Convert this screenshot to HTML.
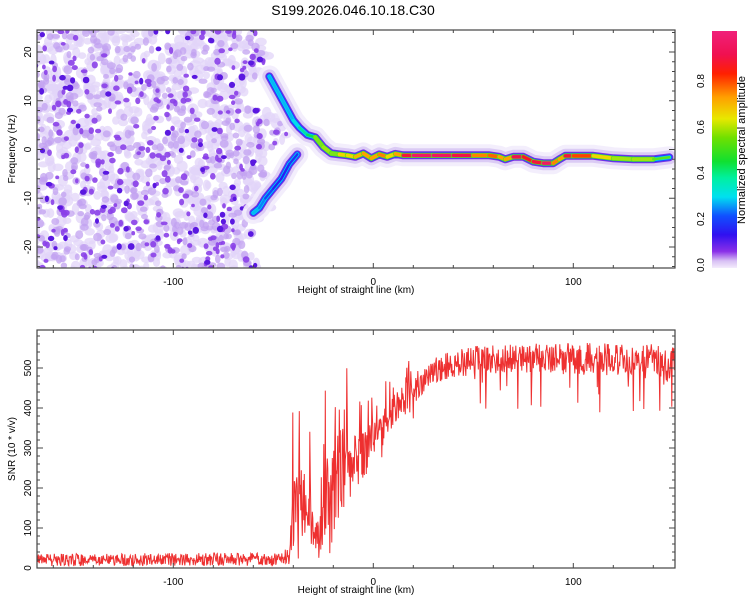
<!DOCTYPE html>
<html><head><meta charset="utf-8">
<style>
body{margin:0;background:#fff;}
svg{display:block;font-family:"Liberation Sans",sans-serif;}
</style></head>
<body>
<svg id="fig" width="750" height="600" viewBox="0 0 750 600">
<defs>
<linearGradient id="cbar" x1="0" y1="1" x2="0" y2="0">
<stop offset="0" stop-color="#f4ecfc"/><stop offset="0.03" stop-color="#d8c0f4"/><stop offset="0.07" stop-color="#8a30e8"/>
<stop offset="0.14" stop-color="#3010f0"/><stop offset="0.22" stop-color="#1050ff"/><stop offset="0.3" stop-color="#00e0f0"/>
<stop offset="0.38" stop-color="#00f0a0"/><stop offset="0.45" stop-color="#10e030"/><stop offset="0.55" stop-color="#70e000"/>
<stop offset="0.63" stop-color="#e8e800"/><stop offset="0.72" stop-color="#ffa000"/><stop offset="0.82" stop-color="#ff2000"/>
<stop offset="0.9" stop-color="#f01050"/><stop offset="1" stop-color="#f0207a"/>
</linearGradient>
<clipPath id="clipTop"><rect x="37" y="30" width="638" height="238"/></clipPath>
<clipPath id="clipBot"><rect x="37" y="330" width="638" height="238"/></clipPath>
</defs>
<text x="353" y="15" font-size="14" text-anchor="middle">S199.2026.046.10.18.C30</text>
<g id="topPlot" clip-path="url(#clipTop)"></g>
<g id="botPlot" clip-path="url(#clipBot)"></g>
<g id="axes"></g>
<rect x="712" y="31" width="25" height="237" fill="url(#cbar)"/>
<text transform="translate(745,150) rotate(-90)" font-size="11" text-anchor="middle">Normalized spectral amplitude</text>
</svg>
<script>
// ---- data ----
const ridgeHeights=[-52,-48,-44,-40,-37,-33,-29,-25,-21,-17,-13,-9,-5,-1,3,7,11,15,20,30,40,50,58,63,66,70,75,80,85,90,93,96,100,110,120,130,140,148];
const ridgeFreqs=[15,12,9,6,4.5,3,2.5,0.5,-0.8,-1,-1.2,-1.5,-0.8,-1.8,-1,-1.5,-0.9,-1.2,-1.2,-1.2,-1.2,-1.2,-1.2,-1.5,-2,-1.5,-1.5,-2.5,-2.8,-2.8,-2,-1.3,-1.3,-1.3,-1.8,-2,-2,-1.6];
const ridgeAmps=[0.3,0.3,0.3,0.3,0.35,0.4,0.45,0.6,0.5,0.55,0.7,0.55,0.8,0.6,0.8,0.65,0.6,0.8,0.95,0.95,0.93,0.85,0.6,0.9,0.5,0.9,0.9,0.8,0.95,0.95,0.5,0.9,0.85,0.7,0.55,0.55,0.55,0.45];
const branchHeights=[-60,-57,-54,-50,-46,-42,-38];
const branchFreqs=[-13,-12,-10,-8,-6,-3,-1];
const branchAmps=[0.3,0.3,0.25,0.2,0.15,0.2,0.2];
const snrHeights=[-168,-45,-42,-40,-36,-32,-29,-27,-24,-20,-16,-12,-8,-4,0,5,10,15,20,25,30,40,50,70,90,110,130,140,146,150];
const snrLevel=[20,22,40,150,180,170,90,70,170,200,240,250,270,290,320,350,390,420,445,470,495,510,520,525,525,522,522,525,500,525];
const snrSpread=[20,20,40,120,130,110,80,60,120,150,140,100,80,70,60,60,50,50,50,40,40,45,45,45,50,50,50,45,60,40];
const xTicks=[-100,0,100];
const freqTicks=[-20,-10,0,10,20];
const snrTicks=[0,100,200,300,400,500];
const cbarTicks=[0,0.2,0.4,0.6,0.8];

const NS="http://www.w3.org/2000/svg";
const X=h=>373.3+2*h;
const YF=f=>149.5-4.875*f;
const YS=v=>568-0.4*v;
function mk(tag,attrs,parent){const e=document.createElementNS(NS,tag);for(const k in attrs)e.setAttribute(k,attrs[k]);parent.appendChild(e);return e;}
let seed=12345;function rnd(){seed|=0;seed=seed+0x6D2B79F5|0;let t=Math.imul(seed^seed>>>15,1|seed);t=t+Math.imul(t^t>>>7,61|t)^t;return((t^t>>>14)>>>0)/4294967296;}
function interp(xs,ys,x){if(x<=xs[0])return ys[0];for(let i=1;i<xs.length;i++){if(x<=xs[i]){const t=(x-xs[i-1])/(xs[i]-xs[i-1]);return ys[i-1]+t*(ys[i]-ys[i-1]);}}return ys[ys.length-1];}
const cmapS=[0,0.05,0.15,0.25,0.32,0.45,0.6,0.7,0.8,0.9,1];
const cmapC=[[216,192,244],[138,48,232],[48,16,240],[16,80,255],[0,224,240],[16,224,48],[232,232,0],[255,160,0],[255,32,0],[240,16,80],[240,32,122]];
function cmap(a){let i=1;while(i<cmapS.length-1&&a>cmapS[i])i++;const t=Math.max(0,Math.min(1,(a-cmapS[i-1])/(cmapS[i]-cmapS[i-1])));const c=cmapC[i-1].map((v,k)=>Math.round(v+t*(cmapC[i][k]-v)));return `rgb(${c})`;}

// ---- top: noise texture ----
const topG=document.getElementById('topPlot');
const noiseG=mk('g',{},topG);


const layers=[[900,3,6,'#e2d4f8',0.75],[450,2.5,4.5,'#c2a2f0',0.75],[260,1.8,3.5,'#8a40e8',0.9],[70,2,3.5,'#5a18e0',1]];
for(const [n,r0,r1,col,op] of layers){for(let i=0;i<n;i++){const f=-25+50*rnd();const bd=-57+6*Math.sin(f*0.4)+(Math.abs(f)<8?8:0);const h2=-170+(bd+170)*rnd();
mk('ellipse',{cx:X(h2).toFixed(1),cy:YF(f).toFixed(1),rx:(r0+(r1-r0)*rnd()).toFixed(1),ry:(r0+(r1-r0)*rnd()).toFixed(1),fill:col,'fill-opacity':op},noiseG);}}
// ---- ridges ----
function drawRidge(hs,fs,as,name){const g=mk('g',{},topG);
const pts=hs.map((h,i)=>X(h).toFixed(1)+','+YF(fs[i]).toFixed(1)).join(' ');
const ls=[[22,'#f2ecfc',0.9],[14,'#d8c6f4',0.9],[8,'#7a30e4',1],[6,'#1848ff',1],[4,'#00d8f0',1]];
for(const [w,c,o] of ls)mk('polyline',{points:pts,fill:'none',stroke:c,'stroke-width':w,'stroke-opacity':o,'stroke-linecap':'round','stroke-linejoin':'round'},g);
for(let i=0;i<hs.length-1;i++){const a=(as[i]+as[i+1])/2;
if(a>0.5)mk('line',{x1:X(hs[i]),y1:YF(fs[i]),x2:X(hs[i+1]),y2:YF(fs[i+1]),stroke:cmap(0.5),'stroke-width':5,'stroke-linecap':'round'},g);
mk('line',{x1:X(hs[i]),y1:YF(fs[i]),x2:X(hs[i+1]),y2:YF(fs[i+1]),stroke:cmap(a),'stroke-width':a>0.5?3.5:2.5,'stroke-linecap':'round'},g);}}
drawRidge(ridgeHeights,ridgeFreqs,ridgeAmps,'main-ridge');
drawRidge(branchHeights,branchFreqs,branchAmps,'lower-branch');

// ---- bottom: SNR ----
const botG=document.getElementById('botPlot');
const snrPts=[];
for(let h=-168;h<=151;h+=0.25){const l=interp(snrHeights,snrLevel,h),s=interp(snrHeights,snrSpread,h);
let v=l+s*0.8*(rnd()*2-1);const r=rnd();
if(h>-42&&h<20){if(r<0.14)v=l+s*(1+1.3*rnd());else if(r<0.2)v=l-s*(0.6+0.6*rnd());}
else if(h>=20){if(r<0.05)v=l-s*(1+1.8*rnd());}
if(v<2)v=2;snrPts.push(X(h).toFixed(1)+','+YS(v).toFixed(1));}
const snrLine=mk('polyline',{points:snrPts.join(' '),fill:'none',stroke:'#ee3030','stroke-width':1},botG);



// ---- axes ----
const ax=document.getElementById('axes');
function frame(y0,y1,name){const r=mk('rect',{x:37,y:y0,width:638,height:y1-y0,fill:'none',stroke:'#444','stroke-width':1.2},ax);
for(let h=-160;h<=150;h+=20){const x=X(h),L=(h%100===0)?5:3;mk('line',{x1:x,y1:y1,x2:x,y2:y1-L,stroke:'#444'},ax);mk('line',{x1:x,y1:y0,x2:x,y2:y0+L,stroke:'#444'},ax);}
for(const t of xTicks){const tx=mk('text',{x:X(t),y:y1+17,'font-size':10,'text-anchor':'middle'},ax);tx.textContent=t;}
const tt=mk('text',{x:356,y:y1+25,'font-size':10,'text-anchor':'middle'},ax);tt.textContent='Height of straight line (km)';}
frame(30,268,'top-axes-frame');frame(330,568,'bottom-axes-frame');
for(let f=-24;f<=24;f+=2){const y=YF(f),L=(f%10===0)?6:3;mk('line',{x1:37,y1:y,x2:37+L,y2:y,stroke:'#444'},ax);mk('line',{x1:675,y1:y,x2:675-L,y2:y,stroke:'#444'},ax);}
for(const t of freqTicks){const tx=mk('text',{transform:`translate(31,${YF(t)}) rotate(-90)`,'font-size':10,'text-anchor':'middle'},ax);tx.textContent=t;}
let yt=mk('text',{transform:'translate(15,149) rotate(-90)','font-size':10,'text-anchor':'middle'},ax);yt.textContent='Frequency (Hz)';
for(let v=0;v<=590;v+=20){const y=YS(v),L=(v%100===0)?6:3;mk('line',{x1:37,y1:y,x2:37+L,y2:y,stroke:'#444'},ax);mk('line',{x1:675,y1:y,x2:675-L,y2:y,stroke:'#444'},ax);}
for(const t of snrTicks){const tx=mk('text',{transform:`translate(31,${YS(t)}) rotate(-90)`,'font-size':10,'text-anchor':'middle'},ax);tx.textContent=t;}
yt=mk('text',{transform:'translate(15,449) rotate(-90)','font-size':10,'text-anchor':'middle'},ax);yt.textContent='SNR (10 * v/v)';
for(const t of cbarTicks){const y=265-230*t;const tx=mk('text',{transform:`translate(704,${y}) rotate(-90)`,'font-size':10,'text-anchor':'middle'},ax);tx.textContent=t.toFixed(1);}
</script>
</body></html>
